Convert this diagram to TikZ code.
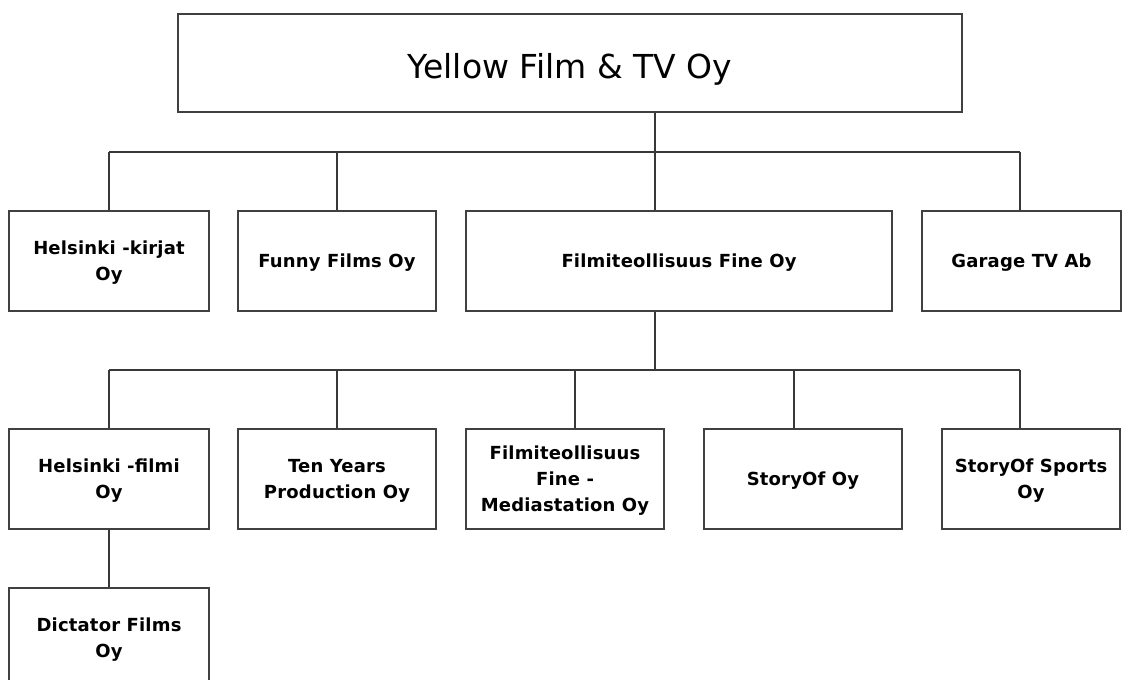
\documentclass[tikz,border=0pt]{standalone}
\usepackage{fontspec}
\setmainfont{DejaVu Sans}
\newfontfamily\boxfont[LetterSpace=1]{DejaVu Sans Bold}
\begin{document}
\begin{tikzpicture}[x=1pt,y=-1pt,
  line/.style={draw=black!78,line width=1.2pt},
  orgbox/.style={draw=black!75,line width=1.3pt,rectangle,inner sep=0pt,align=center,
     font=\boxfont\fontsize{18}{26}\selectfont,text=black,minimum height=100pt,text depth=0pt},
  topbox/.style={draw=black!75,line width=1.3pt,rectangle,inner sep=0pt,align=center,
     font=\fontsize{33}{40}\selectfont,text=black,minimum width=784pt,minimum height=98pt,
     text height=31pt,text depth=0pt}]
\useasboundingbox (0,0) rectangle (1128,680);
\clip (0,0) rectangle (1128,680);
\fill[white] (0,0) rectangle (1128,680);
% top
\node[topbox] (top) at (570,63) {Yellow Film \& TV Oy};
% level 1
\node[orgbox,minimum width=200pt] (hk) at (109,261) {Helsinki -kirjat\\Oy};
\node[orgbox,minimum width=198pt] (ff) at (337,261) {Funny Films Oy};
\node[orgbox,minimum width=426pt] (fi) at (679,261) {Filmiteollisuus Fine Oy};
\node[orgbox,minimum width=199pt] (gt) at (1021.5,261) {Garage TV Ab};
% level 2
\node[orgbox,minimum width=200pt] (hf) at (109,479) {Helsinki -filmi\\Oy};
\node[orgbox,minimum width=198pt] (ty) at (337,479) {Ten Years\\Production Oy};
\node[orgbox,minimum width=198pt] (fm) at (565,479) {Filmiteollisuus\\Fine -\\Mediastation Oy};
\node[orgbox,minimum width=198pt] (so) at (803,479) {StoryOf Oy};
\node[orgbox,minimum width=178pt] (ss) at (1031,479) {StoryOf Sports\\Oy};
% level 3
\node[orgbox,minimum width=200pt] (dfo) at (109,638) {Dictator Films\\Oy};
% bus coordinates
\coordinate (t1) at (655,152);
\coordinate (c1a) at (109,152);
\coordinate (c1b) at (337,152);
\coordinate (c1d) at (1020,152);
\coordinate (f1) at (655,370);
\coordinate (c2a) at (109,370);
\coordinate (c2b) at (337,370);
\coordinate (c2c) at (575,370);
\coordinate (c2d) at (794,370);
\coordinate (c2e) at (1020,370);
% connectors level 1
\draw[line] (top.south -| t1) -- (t1);
\draw[line] (c1a) -- (c1d);
\draw[line] (c1a) -- (hk.north -| c1a);
\draw[line] (c1b) -- (ff.north -| c1b);
\draw[line] (t1) -- (fi.north -| t1);
\draw[line] (c1d) -- (gt.north -| c1d);
% connectors level 2
\draw[line] (fi.south -| f1) -- (f1);
\draw[line] (c2a) -- (c2e);
\draw[line] (c2a) -- (hf.north -| c2a);
\draw[line] (c2b) -- (ty.north -| c2b);
\draw[line] (c2c) -- (fm.north -| c2c);
\draw[line] (c2d) -- (so.north -| c2d);
\draw[line] (c2e) -- (ss.north -| c2e);
% level 3
\draw[line] (hf.south) -- (dfo.north);
\end{tikzpicture}
\end{document}
